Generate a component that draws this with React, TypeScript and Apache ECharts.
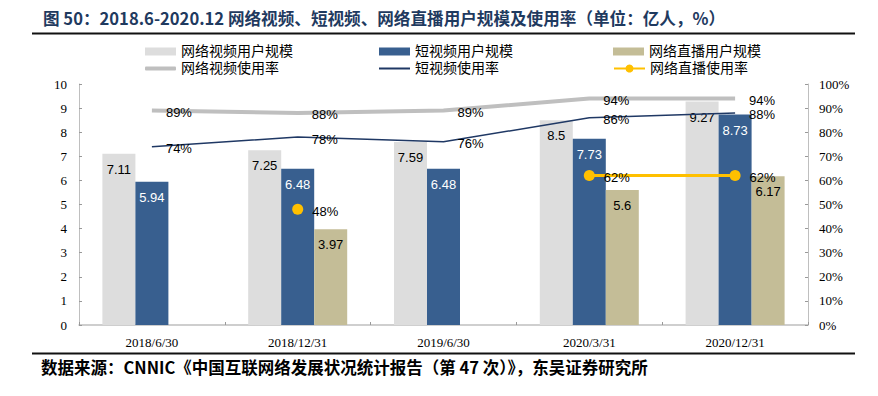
import React, { useEffect, useRef } from "react";
import * as echarts from "echarts";

const categories = ["2018/6/30", "2018/12/31", "2019/6/30", "2020/3/31", "2020/12/31"];
const videoUsers = [7.11, 7.25, 7.59, 8.5, 9.27];
const shortVideoUsers = [5.94, 6.48, 6.48, 7.73, 8.73];
const liveUsers: (number | string)[] = ["-", 3.97, "-", 5.6, 6.17];
const videoRate = [89, 88, 89, 94, 94];
const shortVideoRate = [74, 78, 76, 86, 88];
const liveRate: (number | string)[] = ["-", 48, "-", 62, 62];

const title = "图 50：2018.6-2020.12 网络视频、短视频、网络直播用户规模及使用率（单位：亿人，%）";
const source = "数据来源：CNNIC《中国互联网络发展状况统计报告（第 47 次）》，东吴证券研究所";

const C_GRAY = "#dddddd";
const C_BLUE = "#385f8f";
const C_TAN = "#c4bd97";
const C_GLINE = "#bfbfbf";
const C_BLINE = "#1f3864";
const C_YEL = "#ffc000";

const CJK = '"Noto Sans CJK SC", "Noto Sans", sans-serif';
const LEG = '"Liberation Serif", "Noto Sans CJK SC", serif';
const SERIF = '"Liberation Serif", "Times New Roman", serif';
const SANS = '"Liberation Sans", Arial, sans-serif';

export default function App() {
  const ref = useRef<HTMLDivElement>(null);
  useEffect(() => {
    document.body.style.margin = "0";
    if (!ref.current) return;
    const chart = echarts.init(ref.current, null, { renderer: "svg" });
    const legendText = { fontFamily: LEG, fontSize: 14, lineHeight: 15, color: "#000" };
    const mkLegend = (name: string, left: number, top: number, extra: any) => ({
      left,
      top,
      padding: 0,
      itemWidth: 31,
      itemHeight: 8,
      textStyle: legendText,
      selectedMode: false,
      data: [{ name, ...extra }],
    });
    const barLabel = (color: string) => ({
      show: true,
      position: "insideTop",
      distance: 9,
      color,
      fontFamily: SANS,
      fontSize: 13,
    });
    const lineLabel = (distance: number) => ({
      show: true,
      position: "right",
      distance,
      offset: [0, 2],
      color: "#000",
      fontFamily: SANS,
      fontSize: 13,
      formatter: "{c}%",
    });
    chart.setOption({
      animation: false,
      grid: { left: 79, right: 70, top: 84, bottom: 71, containLabel: false },
      legend: [
        mkLegend("网络视频用户规模", 145, 44, { icon: "rect", itemStyle: { color: C_GRAY } }),
        mkLegend("短视频用户规模", 379, 44, { icon: "rect", itemStyle: { color: C_BLUE } }),
        mkLegend("网络直播用户规模", 613, 44, { icon: "rect", itemStyle: { color: C_TAN } }),
        { ...mkLegend("网络视频使用率", 145, 61, { icon: "roundRect", itemStyle: { color: C_GLINE } }), itemHeight: 4 },
        { ...mkLegend("短视频使用率", 379, 61, { icon: "rect", itemStyle: { color: C_BLINE } }), itemHeight: 2 },
        { ...mkLegend("网络直播使用率", 613, 61, {}), itemHeight: 10 },
      ],
      xAxis: {
        type: "category",
        data: categories,
        axisLine: { lineStyle: { color: C_GLINE, width: 1.5 } },
        axisTick: { show: true, inside: true, length: 3, lineStyle: { color: "#999" } },
        axisLabel: { fontFamily: SERIF, fontSize: 13, color: "#000", margin: 11 },
      },
      yAxis: [
        {
          type: "value",
          min: 0,
          max: 10,
          interval: 1,
          axisLine: { show: true, lineStyle: { color: C_GLINE } },
          axisTick: { show: true, inside: true, length: 3, lineStyle: { color: "#999" } },
          splitLine: { show: false },
          axisLabel: { fontFamily: SERIF, fontSize: 13, color: "#000", margin: 12 },
        },
        {
          type: "value",
          min: 0,
          max: 100,
          interval: 10,
          position: "right",
          axisLine: { show: true, lineStyle: { color: C_GLINE } },
          axisTick: { show: true, inside: true, length: 3, lineStyle: { color: "#999" } },
          splitLine: { show: false },
          axisLabel: { fontFamily: SERIF, fontSize: 13, color: "#000", margin: 11, formatter: "{value}%" },
        },
      ],
      series: [
        {
          name: "网络视频用户规模",
          type: "bar",
          data: videoUsers,
          barWidth: 33,
          barGap: "0%",
          itemStyle: { color: C_GRAY },
          label: barLabel("#000"),
        },
        {
          name: "短视频用户规模",
          type: "bar",
          data: shortVideoUsers,
          barWidth: 33,
          barGap: "0%",
          itemStyle: { color: C_BLUE },
          label: barLabel("#fff"),
        },
        {
          name: "网络直播用户规模",
          type: "bar",
          data: liveUsers,
          barWidth: 33,
          barGap: "0%",
          itemStyle: { color: C_TAN },
          label: barLabel("#000"),
        },
        {
          name: "网络视频使用率",
          type: "line",
          yAxisIndex: 1,
          data: videoRate,
          symbol: "circle",
          symbolSize: 0,
          lineStyle: { color: C_GLINE, width: 4 },
          itemStyle: { color: C_GLINE },
          label: lineLabel(14),
        },
        {
          name: "短视频使用率",
          type: "line",
          yAxisIndex: 1,
          data: shortVideoRate,
          symbol: "circle",
          symbolSize: 0,
          lineStyle: { color: C_BLINE, width: 1.5 },
          itemStyle: { color: C_BLINE },
          label: lineLabel(14),
        },
        {
          name: "网络直播使用率",
          type: "line",
          yAxisIndex: 1,
          data: liveRate,
          connectNulls: false,
          symbol: "circle",
          symbolSize: 11,
          lineStyle: { color: C_YEL, width: 3 },
          itemStyle: { color: C_YEL },
          label: lineLabel(9),
        },
      ],
      graphic: [
        {
          type: "text",
          left: 43,
          top: 10,
          style: { text: title, font: `bold 16.6px ${CJK}`, fill: "#1f3a5f" },
        },
        {
          type: "line",
          shape: { x1: 32, y1: 33.5, x2: 855, y2: 33.5 },
          style: { stroke: "#111", lineWidth: 2 },
        },
        {
          type: "line",
          shape: { x1: 32, y1: 353.5, x2: 855, y2: 353.5 },
          style: { stroke: "#111", lineWidth: 2 },
        },
        {
          type: "text",
          left: 41,
          top: 359,
          style: { text: source, font: `bold 16.5px ${CJK}`, fill: "#000" },
        },
      ],
    });
    return () => chart.dispose();
  }, []);
  return <div ref={ref} style={{ width: 878, height: 396 }} />;
}
